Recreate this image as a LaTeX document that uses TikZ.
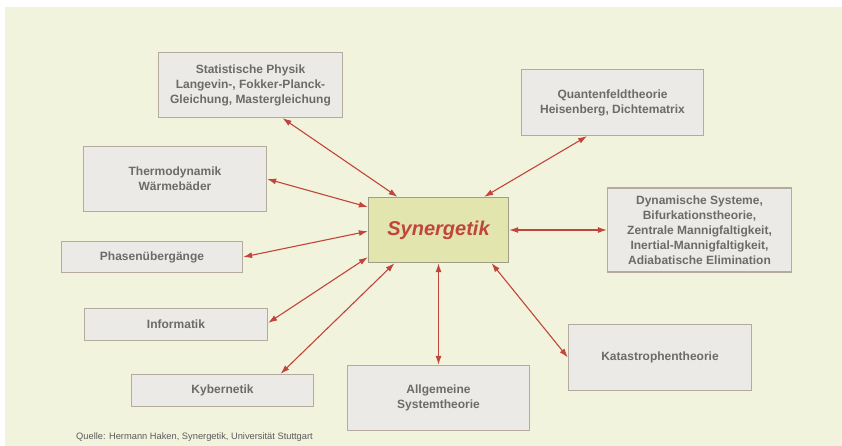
\documentclass[tikz,border=0pt]{standalone}
\usepackage{fontspec}
\setmainfont{Liberation Sans}
\usepackage{tikz}
\usetikzlibrary{arrows.meta}
\definecolor{paper}{HTML}{F2F3DC}
\definecolor{boxfill}{HTML}{ECEAE6}
\definecolor{boxline}{HTML}{B3AB9E}
\definecolor{synfill}{HTML}{E2E5AE}
\definecolor{synline}{HTML}{A09F86}
\definecolor{linkred}{HTML}{C1443D}
\definecolor{textgray}{HTML}{6B6B6B}

\begin{document}
\begin{tikzpicture}[x=1pt,y=-1pt,
    field/.style={draw=boxline,fill=boxfill,line width=1.3pt,text=textgray,
        font=\fontsize{12}{15}\selectfont\bfseries,align=center,inner sep=2pt},
    core/.style={draw=synline,fill=synfill,line width=1.3pt,text=linkred,
        font=\fontsize{20}{24}\selectfont\bfseries\itshape},
    link/.style={draw=linkred,line width=1.1pt,
        {Latex[length=9pt,width=6pt]}-{Latex[length=9pt,width=6pt]}}]
    \fill[white] (0,0) rectangle (842,446);
    \fill[paper] (5,7) rectangle (842,446);

    \node[core,minimum width=140pt,minimum height=65pt] (syn) at (438.5,230) {Synergetik};

    \node[field,minimum width=184pt,minimum height=65pt] (stat) at (250.5,85)
        {Statistische Physik\\Langevin-, Fokker-Planck-\\Gleichung, Mastergleichung};
    \node[field,minimum width=182pt,minimum height=66pt] (quant) at (612.5,102.5)
        {Quantenfeldtheorie\\Heisenberg, Dichtematrix};
    \node[field,minimum width=183pt,minimum height=65pt] (thermo) at (175,179)
        {Thermodynamik\\Wärmebäder};
    \node[field,minimum width=184pt,minimum height=84pt] (dyn) at (699.5,230)
        {Dynamische Systeme,\\Bifurkationstheorie,\\Zentrale Mannigfaltigkeit,\\Inertial-Mannigfaltigkeit,\\Adiabatische Elimination};
    \node[field,minimum width=181pt,minimum height=31pt] (phasen) at (152,257) {Phasenübergänge};
    \node[field,minimum width=183pt,minimum height=32pt] (info) at (176,324.5) {Informatik};
    \node[field,minimum width=182pt,minimum height=32pt] (kyber) at (222.5,390.5) {Kybernetik};
    \node[field,minimum width=182pt,minimum height=65pt] (allg) at (438.5,398)
        {Allgemeine\\Systemtheorie};
    \node[field,minimum width=183pt,minimum height=66pt] (kata) at (660,357.5) {Katastrophentheorie};

    \draw[link] (stat.-46) -- (syn.141.5);
    \draw[link] (thermo.0) -- (syn.162.7);
    \draw[link] (phasen.east) -- (syn.181.6);
    \draw[link] (info.1) -- (syn.201.7);
    \draw[link] (kyber.16) -- (syn.217.2);
    \draw[link] (allg.north) -- (syn.south);
    \draw[link] (kata.west) -- (syn.-32.6);
    \draw[link] (dyn.west) -- (syn.east);
    \draw[link] (quant.233.8) -- (syn.36);

    \node[anchor=west,inner sep=0pt,text=textgray!85!black,font=\fontsize{9.3}{11}\selectfont] (quelle) at (76,437)
        {Quelle: Hermann Haken, Synergetik, Universität Stuttgart};
\end{tikzpicture}
\end{document}
